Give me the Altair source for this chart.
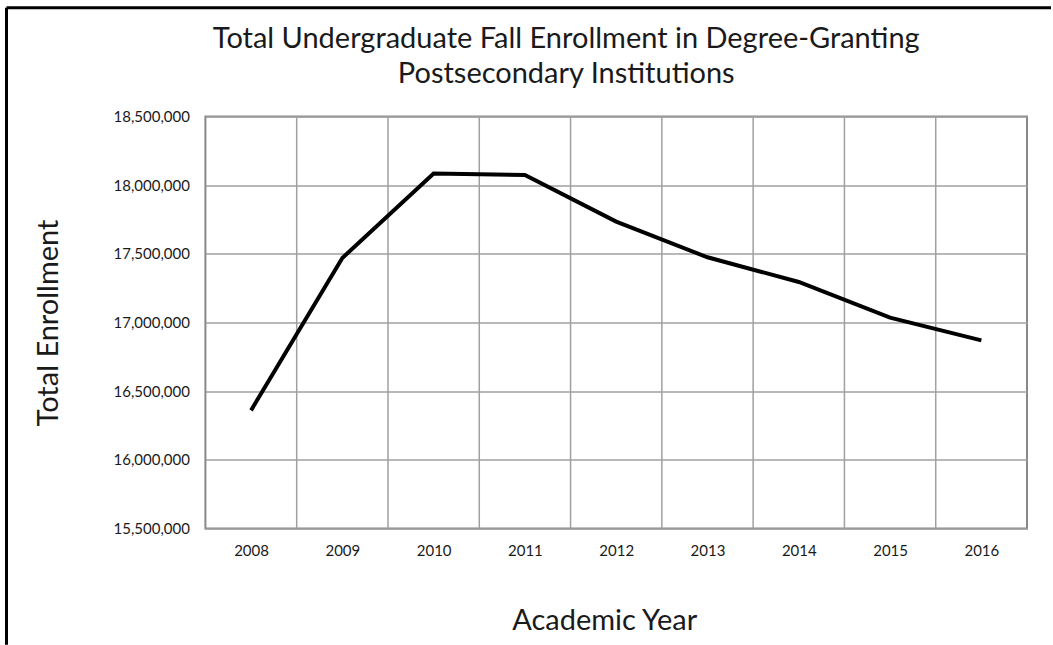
import altair as alt
import pandas as pd

years = [2008, 2009, 2010, 2011, 2012, 2013, 2014, 2015, 2016]
enrollment = [16360000, 17470000, 18085000, 18075000, 17735000, 17475000, 17295000, 17035000, 16870000]
y_ticks = [15500000, 16000000, 16500000, 17000000, 17500000, 18000000, 18500000]
x_grid = [2008.5, 2009.5, 2010.5, 2011.5, 2012.5, 2013.5, 2014.5, 2015.5]
title_lines = ["Total Undergraduate Fall Enrollment in Degree-Granting",
               "Postsecondary Institutions"]

df = pd.DataFrame({"year": years, "enrollment": enrollment})
gdf = pd.DataFrame({"year": x_grid})

FONT = "Lato"
INK = "#1a1a1a"
x_scale = alt.Scale(domain=[2007.5, 2016.5], nice=False, zero=False)
y_scale = alt.Scale(domain=[15500000, 18500000], nice=False, zero=False)

x_axis = alt.Axis(values=years, format="d", grid=False, domain=False, ticks=False,
                  labelPadding=15, labelFontSize=15, labelFont=FONT, labelColor=INK,
                  title="Academic Year", titleFontSize=29, titleFont=FONT,
                  titleFontWeight="normal", titleColor=INK,
                  titleX=399, titleY=92, titleBaseline="middle", titleAlign="center")

grid = alt.Chart(gdf).mark_rule(color="#a0a0a0", strokeWidth=1.5).encode(
    x=alt.X("year:Q", scale=x_scale, axis=x_axis),
)

line = alt.Chart(df).mark_line(color="black", strokeWidth=4, strokeJoin="miter").encode(
    x=alt.X("year:Q", scale=x_scale, axis=x_axis),
    y=alt.Y("enrollment:Q", scale=y_scale,
            axis=alt.Axis(values=y_ticks, format=",.0f", grid=True, gridColor="#a0a0a0",
                          gridWidth=1.5, domain=False, ticks=False, labelPadding=16,
                          labelFontSize=15, labelFont=FONT, labelColor=INK,
                          title="Total Enrollment", titleFontSize=29, titleFont=FONT,
                          titleFontWeight="normal", titleColor=INK, titleAngle=270,
                          titleX=-157, titleY=206, titleBaseline="middle", titleAlign="center")),
)

one = pd.DataFrame({"k": [0]})
frame_left = alt.Chart(one).mark_rule(color="black", strokeWidth=3).encode(
    x=alt.value(-199), y=alt.value(-109), y2=alt.value(528.5))
frame_top = alt.Chart(one).mark_rule(color="black", strokeWidth=3).encode(
    x=alt.value(-199), x2=alt.value(846), y=alt.value(-109))

title = alt.Chart(one).mark_text(font=FONT, fontSize=29, color=INK, align="center",
                                 baseline="middle", lineHeight=35).encode(
    x=alt.value(361), y=alt.value(-78), text=alt.value(title_lines))

chart = alt.layer(grid, line, frame_left, frame_top, title).properties(
    width=822, height=412,
    padding={"left": 4.5, "top": 5.5, "right": 0, "bottom": 0},
    background="white",
).configure_view(stroke="#888888", strokeWidth=2)

chart.save("out.html", embed_options={"renderer": "svg", "actions": False})
